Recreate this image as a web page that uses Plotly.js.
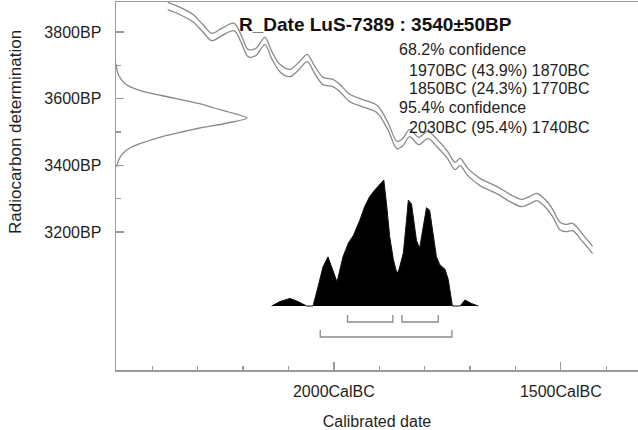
<!DOCTYPE html>
<html>
<head>
<meta charset="utf-8">
<script src="https://cdn.plot.ly/plotly-3.0.1.min.js"></script>
<style>
html,body{margin:0;padding:0;background:#fff;}
#chart{width:638px;height:430px;}
</style>
</head>
<body>
<div id="chart"></div>
<script>
// ---- Data ----
const curveYearBC = [2366,2339,2311,2289,2269,2247,2220,2205,2189,2172,2152,2137,2119,2097,2077,2059,2042,2024,2002,1987,1965,1938,1905,1881,1861,1848,1833,1813,1793,1773,1751,1733,1722,1705,1678,1641,1612,1586,1568,1553,1535,1518,1502,1489,1474,1452,1430];
const curveUpperBP = [3889,3874,3853,3823,3796,3811,3826,3793,3748,3751,3784,3742,3703,3688,3709,3733,3697,3664,3658,3643,3613,3598,3580,3529,3472,3481,3508,3484,3502,3478,3445,3409,3421,3391,3361,3337,3313,3298,3307,3316,3298,3268,3229,3223,3226,3193,3157];
const curveLowerBP = [3867,3852,3831,3801,3774,3789,3804,3771,3726,3729,3762,3720,3681,3666,3687,3711,3675,3642,3636,3621,3591,3576,3558,3507,3450,3459,3486,3462,3480,3456,3423,3387,3399,3369,3339,3315,3291,3276,3285,3294,3276,3246,3207,3201,3204,3171,3135];

const dateBP   = [3395,3415,3430,3445,3457,3470,3487,3500,3512,3527,3542,3560,3572,3585,3595,3605,3615,3625,3645,3670,3705];
const dateProb = [0.005,0.02,0.04,0.08,0.13,0.22,0.36,0.5,0.64,0.85,1.0,0.86,0.75,0.64,0.52,0.40,0.28,0.18,0.07,0.02,0];

const calYearBC = [2137,2119,2097,2079,2060,2046,2035,2024,2013,2005,1993,1980,1968,1957,1943,1932,1921,1910,1899,1890,1884,1877,1869,1862,1858,1847,1840,1836,1829,1824,1818,1811,1803,1796,1789,1781,1774,1767,1755,1748,1741,1739,1722,1711,1697,1682];
const calProb   = [0,0.035,0.06,0.035,0,0,0.15,0.31,0.39,0.31,0.19,0.39,0.50,0.56,0.68,0.79,0.87,0.92,0.96,1.0,0.81,0.55,0.37,0.27,0.27,0.42,0.68,0.84,0.81,0.68,0.52,0.46,0.63,0.78,0.76,0.55,0.39,0.33,0.29,0.21,0.02,0,0,0.048,0.02,0];

const range68From = [1970,1850];
const range68To   = [1870,1770];
const range68Pct  = [43.9,24.3];
const range95From = [2030];
const range95To   = [1740];
const range95Pct  = [95.4];

const xTickVals = [2000,1500];
const xTickText = ['2000CalBC','1500CalBC'];
const xMinorVals = [2400,2300,2200,2100,1900,1800,1700,1600,1400];
const yTickVals = [3200,3400,3600,3800];
const yTickText = ['3200BP','3400BP','3600BP','3800BP'];
const yMinorVals = [3300,3500,3700];

const titleText = 'R_Date LuS-7389 : 3540\u00b150BP';
const xTitle = 'Calibrated date';
const yTitle = 'Radiocarbon determination';

// ---- Styles ----
const FONT = 'Liberation Sans, Arial, sans-serif';
const TXT = '#1e1e1e';
const AXC = '#9a9a9a';
const CURVE = '#8a8a8a';

const traces = [];
traces.push({x: curveYearBC, y: curveUpperBP, xaxis:'x', yaxis:'y', mode:'lines',
  line:{color:CURVE, width:1.3, shape:'spline', smoothing:0.9}, hoverinfo:'skip'});
traces.push({x: curveYearBC, y: curveLowerBP, xaxis:'x', yaxis:'y', mode:'lines',
  line:{color:CURVE, width:1.3, shape:'spline', smoothing:0.9}, hoverinfo:'skip'});
traces.push({x: dateProb, y: dateBP, xaxis:'x2', yaxis:'y', mode:'lines',
  line:{color:CURVE, width:1.3, shape:'spline', smoothing:0.8}, hoverinfo:'skip'});
traces.push({x: calYearBC, y: calProb, xaxis:'x', yaxis:'y2', mode:'lines',
  fill:'tozeroy', fillcolor:'#000', line:{color:'#111', width:1}, hoverinfo:'skip'});

// range brackets (levels on the probability axis)
const BAR68 = -0.127, TOP68 = -0.071, BAR95 = -0.246, TOP95 = -0.190;
function bracket(from, to, bar, top){
  traces.push({x:[from,from,to,to], y:[top,bar,bar,top], xaxis:'x', yaxis:'y2', mode:'lines',
    line:{color:CURVE, width:1.3}, hoverinfo:'skip'});
}
range68From.forEach((f,i)=>bracket(f, range68To[i], BAR68, TOP68));
range95From.forEach((f,i)=>bracket(f, range95To[i], BAR95, TOP95));

// text annotations
const annotations = [];
annotations.push({xref:'paper', yref:'paper', x:0.498, y:0.9400, xanchor:'center', yanchor:'middle',
  text:'<b>'+titleText+'</b>', showarrow:false, font:{family:FONT, size:19, color:'#111'}});
const lines = [];
lines.push({t:'68.2% confidence', indent:false});
range68From.forEach((f,i)=>lines.push({t:f+'BC ('+range68Pct[i].toFixed(1)+'%) '+range68To[i]+'BC', indent:true}));
lines.push({t:'95.4% confidence', indent:false});
range95From.forEach((f,i)=>lines.push({t:f+'BC ('+range95Pct[i].toFixed(1)+'%) '+range95To[i]+'BC', indent:true}));
const lineY = [0.8696, 0.8152, 0.7636, 0.7120, 0.6603];
lines.forEach((l,i)=>annotations.push({xref:'paper', yref:'paper', x: l.indent ? 0.5575 : 0.5383, y: lineY[i],
  xanchor:'left', yanchor:'middle', text:l.t, showarrow:false, font:{family:FONT, size:16, color:TXT}}));
// y-axis title (placed off-centre as in the reference)
annotations.push({xref:'paper', yref:'paper', x:-0.1935, y:0.6467, xanchor:'center', yanchor:'middle',
  textangle:-90, text:yTitle, showarrow:false, font:{family:FONT, size:17, color:TXT}});

const layout = {
  width:638, height:430,
  margin:{l:116, r:0, t:2, b:60},
  paper_bgcolor:'#fff', plot_bgcolor:'#fff',
  showlegend:false,
  font:{family:FONT, color:TXT},
  xaxis:{range:[2480,1330], showline:true, linecolor:AXC, linewidth:1.5, mirror:true,
    ticks:'inside', ticklen:8, tickwidth:1.3, tickcolor:AXC,
    tickmode:'array', tickvals:xTickVals, ticktext:xTickText, ticklabelstandoff:6,
    minor:{tickmode:'array', tickvals:xMinorVals, ticks:'inside', ticklen:4, tickwidth:1.3, tickcolor:AXC, showgrid:false},
    showgrid:false, zeroline:false, tickfont:{family:FONT, size:16, color:TXT},
    title:{text:xTitle, font:{family:FONT, size:16, color:TXT}, standoff:19}},
  yaxis:{range:[2786,3890], showline:true, linecolor:AXC, linewidth:1.5,
    ticks:'inside', ticklen:8, tickwidth:1.3, tickcolor:AXC,
    tickmode:'array', tickvals:yTickVals, ticktext:yTickText, ticklabelstandoff:10,
    minor:{tickmode:'array', tickvals:yMinorVals, ticks:'inside', ticklen:5, tickwidth:1.3, tickcolor:AXC, showgrid:false},
    showgrid:false, zeroline:false, tickfont:{family:FONT, size:16, color:TXT}},
  xaxis2:{overlaying:'x', range:[0,3.985], visible:false},
  yaxis2:{overlaying:'y', range:[-0.508,2.413], visible:false},
  annotations:annotations
};

Plotly.newPlot('chart', traces, layout, {staticPlot:true, displayModeBar:false});
</script>
</body>
</html>
